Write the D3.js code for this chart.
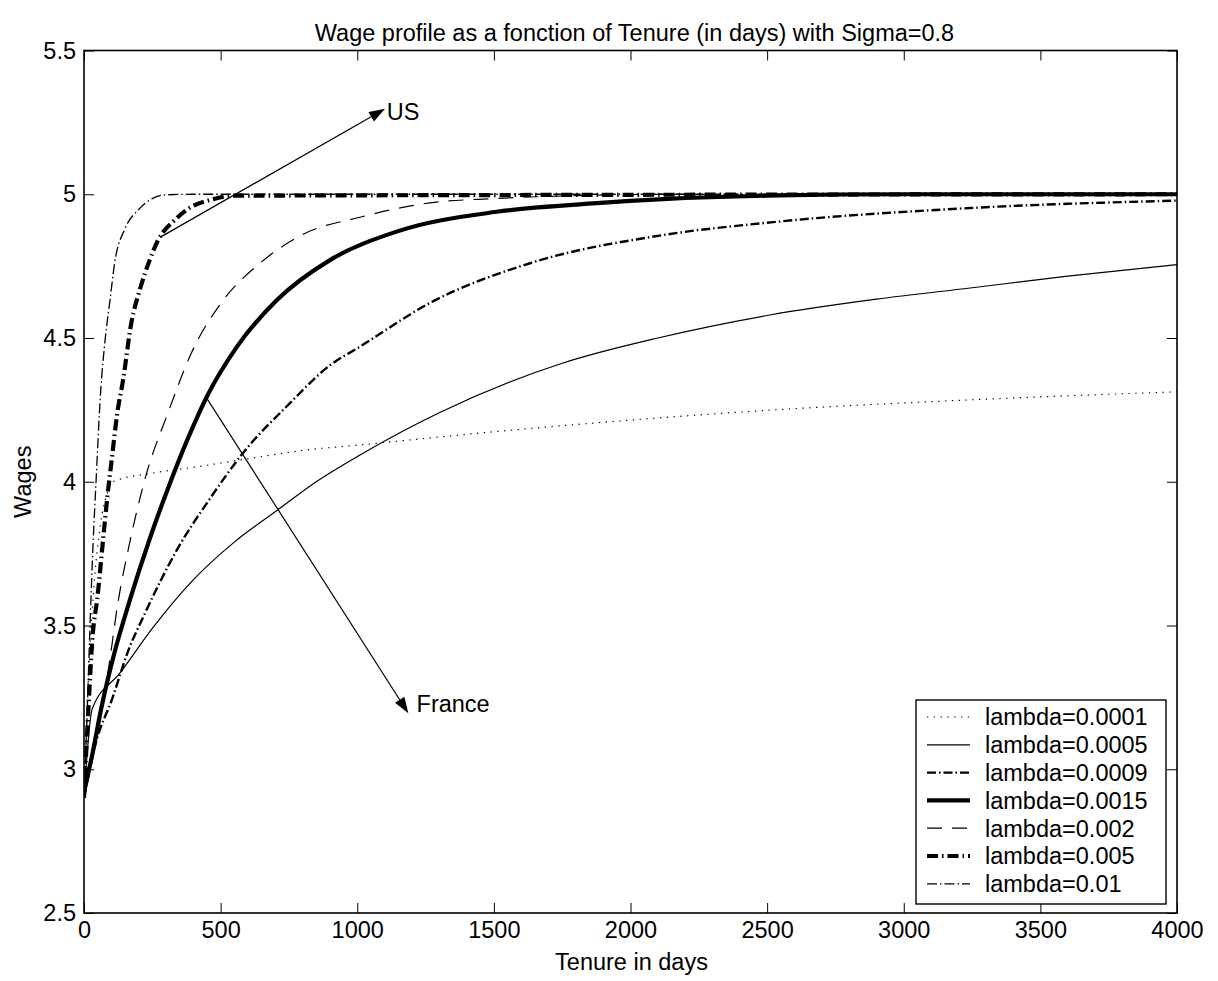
<!DOCTYPE html>
<html>
<head>
<meta charset="utf-8">
<script src="https://cdn.jsdelivr.net/npm/d3@7"></script>
<style>
  html, body { margin: 0; padding: 0; background: #fff; }
  svg { display: block; }
  text { font-family: "Liberation Sans", Arial, Helvetica, sans-serif; fill: #000; }
</style>
</head>
<body>
<svg id="chart" width="1218" height="981"></svg>
<script>
// ---------------- data ----------------
const titleText = "Wage profile as a fonction of Tenure (in days) with Sigma=0.8";
const xLabel = "Tenure in days";
const yLabel = "Wages";

const xTicks = [0, 500, 1000, 1500, 2000, 2500, 3000, 3500, 4000];
const xTickLabels = ["0", "500", "1000", "1500", "2000", "2500", "3000", "3500", "4000"];
const yTicks = [2.5, 3, 3.5, 4, 4.5, 5, 5.5];
const yTickLabels = ["2.5", "3", "3.5", "4", "4.5", "5", "5.5"];

const seriesNames = ["lambda=0.0001", "lambda=0.0005", "lambda=0.0009", "lambda=0.0015",
                     "lambda=0.002", "lambda=0.005", "lambda=0.01"];

const tenure0001 = [0, 15, 35, 60, 85, 106, 250, 399, 600, 809, 1010, 1400, 1863, 2510, 3200, 4000];
const wage0001   = [2.90, 3.30, 3.62, 3.85, 3.96, 4.00, 4.03, 4.05, 4.08, 4.11, 4.128, 4.165, 4.204, 4.249, 4.283, 4.313];

const tenure0005 = [0, 30, 132, 250, 399, 550, 706, 850, 1010, 1300, 1753, 2100, 2510, 2900, 3243, 3600, 4000];
const wage0005   = [2.90, 3.21, 3.335, 3.49, 3.658, 3.79, 3.90, 4.00, 4.093, 4.24, 4.413, 4.50, 4.58, 4.635, 4.674, 4.715, 4.755];

const tenure0009 = [0, 40, 105, 161, 222, 340, 460, 582, 750, 900, 1010, 1266, 1632, 2119, 2522, 3243, 4000];
const wage0009   = [2.90, 3.08, 3.25, 3.41, 3.54, 3.763, 3.94, 4.10, 4.27, 4.405, 4.47, 4.622, 4.76, 4.858, 4.903, 4.952, 4.978];

const tenure0015 = [0, 30, 65, 110, 168, 240, 315, 380, 449, 560, 706, 900, 1144, 1510, 1876, 2120, 2500, 3000, 4000];
const wage0015   = [2.92, 3.05, 3.22, 3.40, 3.589, 3.80, 3.996, 4.15, 4.295, 4.47, 4.632, 4.771, 4.87, 4.939, 4.969, 4.983, 4.995, 5.0, 5.0];

const tenure002 = [0, 40, 88, 124, 170, 222, 307, 393, 510, 644, 800, 1010, 1266, 1500, 1800, 2200, 4000];
const wage002   = [2.90, 3.12, 3.34, 3.578, 3.80, 4.006, 4.239, 4.448, 4.632, 4.76, 4.86, 4.92, 4.97, 4.985, 4.995, 5.0, 5.0];

const tenure005 = [0, 15, 33, 48, 70, 88, 100, 122, 143, 173, 204, 240, 271, 332, 392, 461, 550, 4000];
const wage005   = [2.90, 3.19, 3.48, 3.589, 3.80, 3.97, 4.065, 4.24, 4.354, 4.552, 4.667, 4.77, 4.84, 4.91, 4.956, 4.98, 4.995, 5.0];

const tenure01 = [0, 10, 22, 33, 44, 60, 78, 95, 112, 150, 198, 250, 300, 400, 4000];
const wage01   = [2.90, 3.15, 3.50, 3.78, 4.00, 4.30, 4.50, 4.63, 4.76, 4.88, 4.945, 4.985, 4.998, 5.0, 5.0];

// annotations (data coordinates): tail -> tip, label anchor
const annotLabels = ["US", "France"];
const annotTail   = [[278, 4.85], [449, 4.291]];
const annotTip    = [[1102, 5.297], [1187, 3.195]];
const annotText   = [[1108, 5.26], [1217, 3.199]];

// ---------------- chart ----------------
(function () {
const svg = d3.select("#chart");
const W = 1218, H = 981;
const pL = 84, pR = 1177, pT = 50.5, pB = 913;
const FS = 23.5;

const x = d3.scaleLinear().domain([0, 4000]).range([pL, pR]);
const y = d3.scaleLinear().domain([2.5, 5.5]).range([pB, pT]);

svg.append("rect").attr("width", W).attr("height", H).attr("fill", "#fff");

const styles = [
  { w: 1.2, dash: "1.3,5.5" },
  { w: 1.2, dash: null },
  { w: 2.4, dash: "9,3,1.5,3" },
  { w: 4.2, dash: null },
  { w: 1.2, dash: "15,10" },
  { w: 4.2, dash: "11,4,1.5,4" },
  { w: 1.3, dash: "10,3,1.5,3" }
];

const tenures = [tenure0001, tenure0005, tenure0009, tenure0015, tenure002, tenure005, tenure01];
const wages = [wage0001, wage0005, wage0009, wage0015, wage002, wage005, wage01];

const series = seriesNames.map((name, i) => ({
  name, style: styles[i],
  pts: tenures[i].map((t, j) => ({ t, w: wages[i][j] }))
}));

svg.append("clipPath").attr("id", "clip")
  .append("rect").attr("x", pL).attr("y", pT).attr("width", pR - pL).attr("height", pB - pT);

const line = d3.line().x(d => x(d.t)).y(d => y(d.w)).curve(d3.curveMonotoneX);

const plot = svg.append("g").attr("clip-path", "url(#clip)");
series.forEach(s => {
  plot.append("path")
    .attr("d", line(s.pts))
    .attr("fill", "none")
    .attr("stroke", "#000")
    .attr("stroke-width", s.style.w)
    .attr("stroke-linecap", "butt")
    .attr("stroke-linejoin", "round")
    .attr("stroke-dasharray", s.style.dash);
});

const axB = d3.axisBottom(x).tickValues(xTicks).tickFormat((d, i) => xTickLabels[i]).tickSizeInner(-10).tickSizeOuter(0).tickPadding(8);
const axT = d3.axisTop(x).tickValues(xTicks).tickFormat("").tickSizeInner(-10).tickSizeOuter(0);
const axL = d3.axisLeft(y).tickValues(yTicks).tickFormat((d, i) => yTickLabels[i]).tickSizeInner(-10).tickSizeOuter(0).tickPadding(8);
const axR = d3.axisRight(y).tickValues(yTicks).tickFormat("").tickSizeInner(-10).tickSizeOuter(0);

function styleAxis(g) {
  g.select(".domain").remove();
  g.selectAll(".tick line").attr("stroke", "#000").attr("stroke-width", 1);
  g.selectAll(".tick text").attr("font-size", FS).attr("fill", "#000")
    .attr("font-family", '"Liberation Sans", Arial, Helvetica, sans-serif');
}
svg.append("g").attr("transform", `translate(0,${pB})`).call(axB).call(styleAxis);
svg.append("g").attr("transform", `translate(0,${pT})`).call(axT).call(styleAxis);
svg.append("g").attr("transform", `translate(${pL},0)`).call(axL).call(styleAxis);
svg.append("g").attr("transform", `translate(${pR},0)`).call(axR).call(styleAxis);

svg.append("rect").attr("x", pL).attr("y", pT).attr("width", pR - pL).attr("height", pB - pT)
  .attr("fill", "none").attr("stroke", "#000").attr("stroke-width", 1.6);

annotLabels.forEach((lab, i) => {
  const x0 = x(annotTail[i][0]), y0 = y(annotTail[i][1]);
  const x1 = x(annotTip[i][0]), y1 = y(annotTip[i][1]);
  const dx = x1 - x0, dy = y1 - y0, L = Math.hypot(dx, dy);
  const ux = dx / L, uy = dy / L;
  const hl = 16, hw = 5.5;
  const bx = x1 - ux * hl, by = y1 - uy * hl;
  svg.append("line").attr("x1", x0).attr("y1", y0).attr("x2", bx).attr("y2", by)
    .attr("stroke", "#000").attr("stroke-width", 1.2);
  svg.append("path")
    .attr("d", `M${x1},${y1}L${bx - uy * hw},${by + ux * hw}L${bx + uy * hw},${by - ux * hw}Z`)
    .attr("fill", "#000");
  svg.append("text").attr("x", x(annotText[i][0])).attr("y", y(annotText[i][1]))
    .attr("font-size", FS).text(lab);
});

svg.append("text").attr("x", (pL + pR) / 2 + 4).attr("y", 41).attr("text-anchor", "middle")
  .attr("font-size", FS).text(titleText);
svg.append("text").attr("x", (pL + pR) / 2 + 1).attr("y", 970).attr("text-anchor", "middle")
  .attr("font-size", FS).text(xLabel);
svg.append("text").attr("transform", `translate(31,${(pT + pB) / 2}) rotate(-90)`)
  .attr("text-anchor", "middle").attr("font-size", FS).text(yLabel);

const lgX = 916, lgY = 700, lgW = 250, lgH = 204, rowH = 27.8, row0 = 717;
const lg = svg.append("g");
lg.append("rect").attr("x", lgX).attr("y", lgY).attr("width", lgW).attr("height", lgH)
  .attr("fill", "#fff").attr("stroke", "#000").attr("stroke-width", 1.4);
series.forEach((s, i) => {
  const cy = row0 + i * rowH;
  lg.append("line").attr("x1", 927).attr("x2", 970).attr("y1", cy).attr("y2", cy)
    .attr("stroke", "#000").attr("stroke-width", s.style.w)
    .attr("stroke-dasharray", s.style.dash);
  lg.append("text").attr("x", 985).attr("y", cy + 8.4).attr("font-size", FS).text(s.name);
});
})();
</script>
</body>
</html>
